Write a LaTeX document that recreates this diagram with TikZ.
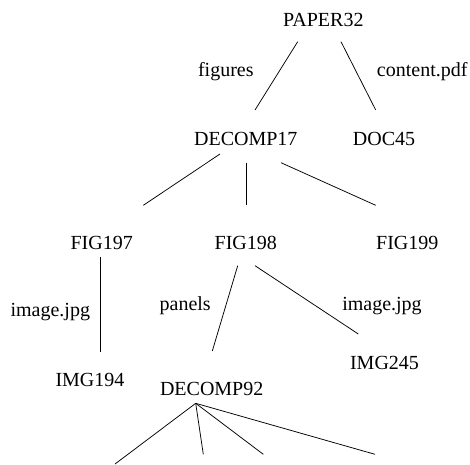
\documentclass[tikz,border=0pt]{standalone}
\usepackage{fontspec}
\setmainfont{Liberation Serif}
\begin{document}
\begin{tikzpicture}[x=1pt,y=-1pt,
  lbl/.style={inner sep=0pt, anchor=base, font=\fontsize{20}{24}\selectfont},
  edge/.style={draw=black, line width=0.75pt}]
\useasboundingbox (0,0) rectangle (470,464);
\clip (0,0) rectangle (470,464);
% nodes
\node[lbl] (paper) at (323.3,26) {PAPER32};
\node[lbl] (d17) at (245.8,145.7) {DECOMP17};
\node[lbl] (doc45) at (384,145.7) {DOC45};
\node[lbl] (fig197) at (101.7,249.3) {FIG197};
\node[lbl] (fig198) at (245.8,249.3) {FIG198};
\node[lbl] (fig199) at (407.3,249.3) {FIG199};
\node[lbl] (img194) at (90,386) {IMG194};
\node[lbl] (d92) at (211.7,395) {DECOMP92};
\node[lbl] (img245) at (384.5,369.3) {IMG245};
% edge labels
\node[lbl] (lfig) at (225.8,76) {figures};
\node[lbl] (lpdf) at (422.2,76) {content.pdf};
\node[lbl] (limg1) at (50.3,316.7) {image.jpg};
\node[lbl] (lpan) at (185.2,310) {panels};
\node[lbl] (limg2) at (382,310) {image.jpg};
% off-picture children
\coordinate (c1) at (115,464);
\coordinate (c2) at (203.3,454.3);
\coordinate (c3) at (263.3,454.3);
\coordinate (c4) at (375,454.3);
% edges
\path[edge] ([shift={(-25.6,15.7)}]paper.base) -- ([shift={(9.2,-35.7)}]d17.base);
\path[edge] ([shift={(17.7,15.7)}]paper.base) -- ([shift={(-8.3,-35.7)}]doc45.base);
\path[edge] ([shift={(-25.8,8.3)}]d17.base) -- ([shift={(41.6,-44)}]fig197.base);
\path[edge] ([shift={(0.5,17)}]d17.base) -- ([shift={(0.5,-44.3)}]fig198.base);
\path[edge] ([shift={(35.2,17)}]d17.base) -- ([shift={(-31.6,-44)}]fig199.base);
\path[edge] ([shift={(-1.7,8)}]fig197.base) -- ([shift={(10,-34.3)}]img194.base);
\path[edge] ([shift={(-8.1,16.4)}]fig198.base) -- ([shift={(0.6,-44)}]d92.base);
\path[edge] ([shift={(9.2,16.4)}]fig198.base) -- ([shift={(-26.2,-35.3)}]img245.base);
\path[edge] ([shift={(-16,8.3)}]d92.base) -- (c1);
\path[edge] ([shift={(-16,8.3)}]d92.base) -- (c2);
\path[edge] ([shift={(-16,8.3)}]d92.base) -- (c3);
\path[edge] ([shift={(-16,8.3)}]d92.base) -- (c4);
\end{tikzpicture}
\end{document}
